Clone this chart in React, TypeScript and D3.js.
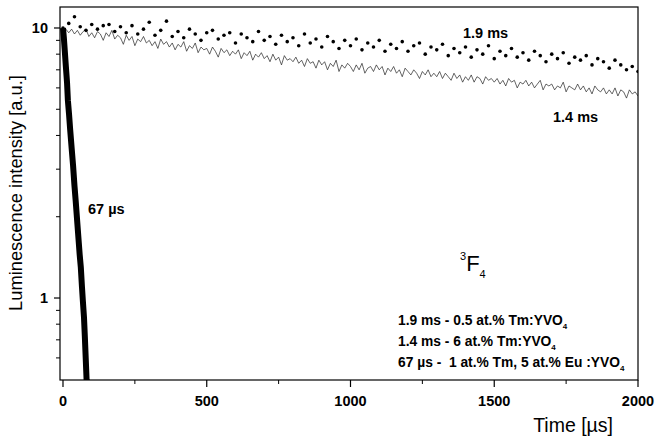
import React from "react";
import * as d3 from "d3";

// time axis (µs) and readings
const timesSlow = d3.range(0, 2001, 20); // 1.9 ms dots, every 20 µs
const valuesSlow = [
  10.0, 10.4, 11.0, 10.1, 9.8, 10.3, 9.9, 10.2, 10.3, 9.7,
  10.1, 9.6, 10.2, 9.5, 9.9, 10.5, 9.4, 9.8, 10.6, 9.3,
  9.7, 9.2, 9.9, 9.5, 9.0, 9.6, 9.8, 9.1, 9.4, 9.6,
  8.8, 9.5, 9.2, 8.9, 9.7, 9.0, 9.3, 8.7, 9.4, 8.9,
  9.2, 8.6, 9.5, 8.8, 9.1, 8.5, 9.3, 8.9, 8.4, 9.0,
  8.6, 9.1, 8.3, 8.8, 8.5, 9.0, 8.2, 8.7, 8.4, 8.9,
  8.2, 8.6, 8.8, 8.0, 8.5, 8.3, 8.7, 7.9, 8.4, 8.1,
  8.5, 7.8, 8.3, 8.0, 8.6, 7.7, 8.2, 7.9, 8.4, 7.8,
  8.1, 7.6, 8.2, 7.9, 7.5, 8.0, 7.7, 8.1, 7.4, 7.8,
  7.6, 7.9, 7.3, 7.7, 7.5, 7.1, 7.6, 7.3, 7.0, 7.2,
  6.9,
];

const timesMid = d3.range(0, 2001, 10); // 1.4 ms trace, every 10 µs
const valuesMid = [
  10.0, 9.9, 9.6, 9.9, 9.5, 9.8, 9.4, 9.7, 9.9, 9.3,
  9.6, 9.2, 9.7, 9.5, 9.0, 9.6, 9.3, 9.8, 9.1, 9.4,
  9.2, 8.7, 9.4, 9.0, 9.3, 8.6, 9.1, 8.9, 9.3, 8.8,
  9.0, 8.6, 8.9, 8.4, 9.1, 8.7, 8.9, 8.5, 8.8, 8.3,
  8.7, 8.5, 8.9, 8.2, 8.6, 8.4, 8.8, 8.1, 8.5, 8.3,
  8.4, 8.0, 8.5, 8.2, 7.8, 8.4, 8.1, 8.3, 7.9, 8.2,
  8.0, 8.3, 7.7, 8.1, 7.9, 8.2, 7.6, 8.0, 7.8, 8.1,
  7.7, 7.9, 7.5, 8.0, 7.6, 7.8, 7.3, 7.9, 7.6, 7.7,
  7.5, 7.8, 7.4, 7.6, 7.2, 7.7, 7.4, 7.5, 7.1, 7.6,
  7.3, 7.5, 7.0, 7.4, 7.2, 7.6, 6.9, 7.3, 7.1, 7.4,
  7.2, 6.9, 7.3, 7.0, 7.4, 6.8, 7.1, 7.2, 6.9, 7.3,
  7.0, 7.2, 6.7, 7.1, 6.9, 7.2, 6.8, 7.0, 6.6, 7.1,
  6.9, 6.7, 7.0, 6.8, 6.5, 6.9, 6.7, 7.0, 6.6, 6.8,
  6.6, 6.9, 6.5, 6.8, 6.6, 6.4, 6.8, 6.5, 6.7, 6.3,
  6.6, 6.4, 6.7, 6.3, 6.6, 6.5, 6.2, 6.6, 6.4, 6.5,
  6.3, 6.5, 6.2, 6.4, 6.1, 6.5, 6.3, 6.4, 6.0, 6.3,
  6.2, 6.4, 6.1, 6.3, 6.0, 6.2, 6.4, 5.9, 6.2, 6.1,
  6.2, 5.9, 6.1, 6.0, 6.3, 5.8, 6.1, 6.0, 5.9, 6.2,
  5.9, 6.1, 5.8, 6.0, 5.7, 6.1, 5.9, 5.8, 6.0, 5.7,
  5.9, 5.7, 6.0, 5.6, 5.9, 5.8, 5.5, 5.9, 5.7, 5.8,
  5.6,
];

const timesFast = [0, 3, 6, 10, 14, 17, 21, 25, 30, 35, 40, 44, 49, 55, 58, 62, 66, 69, 73, 76, 79, 82, 85, 88];
const valuesFast = [10, 9.2, 8.3, 7.2, 6.3, 5.4, 4.8, 4.2, 3.6, 3.1, 2.6, 2.3, 1.95, 1.6, 1.45, 1.3, 1.1, 0.98, 0.85, 0.72, 0.6, 0.5, 0.45, 0.4];

const xTicks = [0, 500, 1000, 1500, 2000];
const xMinor = [250, 750, 1250, 1750];
const yTicks = [1, 10];
const yMinor = [0.6, 0.7, 0.8, 0.9, 2, 3, 4, 5, 6, 7, 8, 9];

const W = 655;
const H = 446;
const left = 60, right = 638, top = 7, bottom = 380;
const font = "'Liberation Sans', Arial, sans-serif";

export default function App() {
  const x = d3.scaleLinear().domain([-10.4, 2000]).range([left, right]);
  const y = d3.scaleLog().domain([0.497, 11.96]).range([bottom, top]);

  const line = d3
    .line<[number, number]>()
    .x((d) => x(d[0]))
    .y((d) => y(d[1]));

  const mid = line(timesMid.map((t, i) => [t, valuesMid[i]]));
  const fast = line(timesFast.map((t, i) => [t, valuesFast[i]]));

  return (
    <svg
      width={W}
      height={H}
      style={{ position: "absolute", left: 0, top: 0, background: "#fff" }}
      fontFamily={font}
    >
      <defs>
        <clipPath id="plot">
          <rect x={left} y={top} width={right - left} height={bottom - top} />
        </clipPath>
      </defs>

      <g clipPath="url(#plot)">
        <path d={mid || ""} fill="none" stroke="#222" strokeWidth={0.7} />
        {timesSlow.map((t, i) => (
          <circle key={i} cx={x(t)} cy={y(valuesSlow[i])} r={1.8} fill="#000" />
        ))}
        <path d={fast || ""} fill="none" stroke="#000" strokeWidth={6} />
      </g>

      <rect x={left} y={top} width={right - left} height={bottom - top} fill="none" stroke="#000" strokeWidth={1.2} />

      {/* x axis */}
      {xTicks.map((t) => (
        <g key={t}>
          <line x1={x(t)} x2={x(t)} y1={bottom} y2={bottom + 7} stroke="#000" strokeWidth={1.2} />
          <text x={x(t)} y={bottom + 26} textAnchor="middle" fontSize={14.5} fontWeight="bold">
            {t}
          </text>
        </g>
      ))}
      {xMinor.map((t) => (
        <line key={t} x1={x(t)} x2={x(t)} y1={bottom} y2={bottom + 4} stroke="#000" strokeWidth={1} />
      ))}

      {/* y axis */}
      {yTicks.map((v) => (
        <g key={v}>
          <line x1={left - 6} x2={left} y1={y(v)} y2={y(v)} stroke="#000" strokeWidth={1.2} />
          <text x={left - 12} y={y(v) + 5} textAnchor="end" fontSize={14.5} fontWeight="bold">
            {v}
          </text>
        </g>
      ))}
      {yMinor.map((v) => (
        <line key={v} x1={left - 4} x2={left} y1={y(v)} y2={y(v)} stroke="#000" strokeWidth={1} />
      ))}

      <text transform="translate(22,193) rotate(-90)" textAnchor="middle" fontSize={18.3}>
        Luminescence intensity [a.u.]
      </text>
      <text x={613} y={432} textAnchor="end" fontSize={19.5}>
        Time [µs]
      </text>

      {/* curve labels */}
      <text x={463} y={38} fontSize={14.5} fontWeight="bold">1.9 ms</text>
      <text x={553} y={122} fontSize={14.5} fontWeight="bold">1.4 ms</text>
      <text x={88} y={214} fontSize={14.5} fontWeight="bold">67 µs</text>

      <text x={460} y={271} fontSize={22}>
        <tspan fontSize={11} dy={-11}>3</tspan>
        <tspan dy={11}>F</tspan>
        <tspan fontSize={11} dy={7}>4</tspan>
      </text>

      <g fontSize={13.8} fontWeight="bold">
        <text x={398} y={325}>
          1.9 ms - 0.5 at.% Tm:YVO<tspan fontSize={8} dy={4}>4</tspan>
        </text>
        <text x={398} y={346}>
          1.4 ms - 6 at.% Tm:YVO<tspan fontSize={8} dy={4}>4</tspan>
        </text>
        <text x={398} y={367} xmlSpace="preserve">
          67 µs -  1 at.% Tm, 5 at.% Eu :YVO<tspan fontSize={8} dy={4}>4</tspan>
        </text>
      </g>
    </svg>
  );
}
